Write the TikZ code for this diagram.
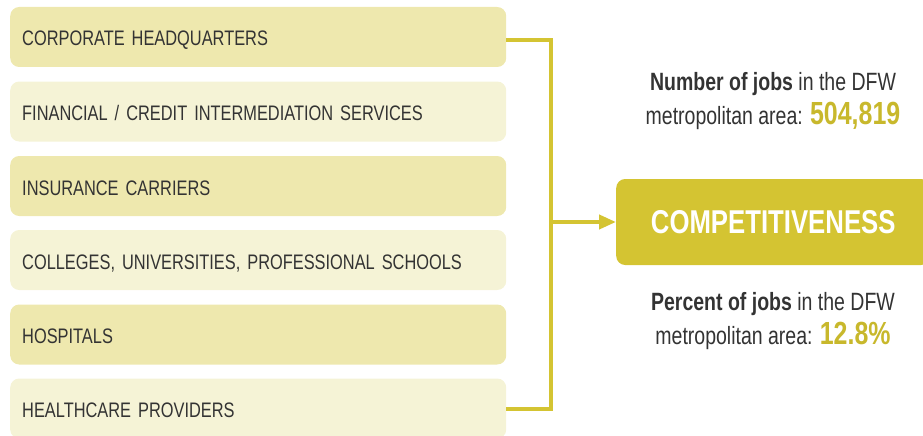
\documentclass[tikz,border=0pt]{standalone}
\usepackage{fontspec}
\setmainfont{Liberation Sans}[FakeStretch=0.78]
\usetikzlibrary{positioning, arrows.meta}
\definecolor{boxdark}{HTML}{EEE8AE}
\definecolor{boxlight}{HTML}{F5F3D6}
\definecolor{gold}{HTML}{D4C432}
\definecolor{numgold}{HTML}{C8B82C}
\definecolor{ink}{HTML}{333333}
\tikzset{>=stealth}
\tikzset{
  sector/.style={anchor=west, rounded corners=9pt, minimum width=496pt, minimum height=60pt,
    inner xsep=12pt, text width=472pt, align=left, text=ink, text height=18pt, text depth=0pt,
    font=\fontsize{21}{24}\selectfont},
  link/.style={draw=gold, line width=4pt},
  stat/.style={align=center, text=ink, font=\fontsize{25}{34}\selectfont}
}

\begin{document}
\begin{tikzpicture}[x=1pt,y=-1pt]
\useasboundingbox (0,0) rectangle (923,436);
% sector boxes
\node[sector, fill=boxdark]  (hq)  at (10,37)    {CORPORATE HEADQUARTERS};
\node[sector, fill=boxlight] (fin) at (10,111.5) {FINANCIAL / CREDIT INTERMEDIATION SERVICES};
\node[sector, fill=boxdark]  (ins) at (10,186)   {INSURANCE CARRIERS};
\node[sector, fill=boxlight] (col) at (10,260)   {COLLEGES, UNIVERSITIES, PROFESSIONAL SCHOOLS};
\node[sector, fill=boxdark]  (hos) at (10,334.5) {HOSPITALS};
\node[sector, fill=boxlight] (hp)  at (10,408.5) {HEALTHCARE PROVIDERS};
% result box
\node[anchor=west, fill=gold, rounded corners=9pt, minimum width=314pt, minimum height=86pt,
  text=white, font=\fontsize{33}{36}\selectfont\bfseries] (comp) at (616,222) {COMPETITIVENESS};
% bracket and arrow
\draw[link] ([yshift=-3pt]hq.east) -- ++(45,0) |- (hp.east);
\coordinate (bus) at (551,222);
\draw[link, -{Triangle[length=17pt,width=14pt]}] (bus) -- (comp.west);
% figures
\node[stat, anchor=north] (jobs) at (773,68.5)
  {\textbf{Number of jobs} in the DFW\\metropolitan area: {\color{numgold}\fontsize{32}{34}\selectfont\bfseries 504,819}};
\node[stat, anchor=north] (pct) at (773,288.5)
  {\textbf{Percent of jobs} in the DFW\\metropolitan area: {\color{numgold}\fontsize{32}{34}\selectfont\bfseries 12.8\%}};
\end{tikzpicture}
\end{document}
